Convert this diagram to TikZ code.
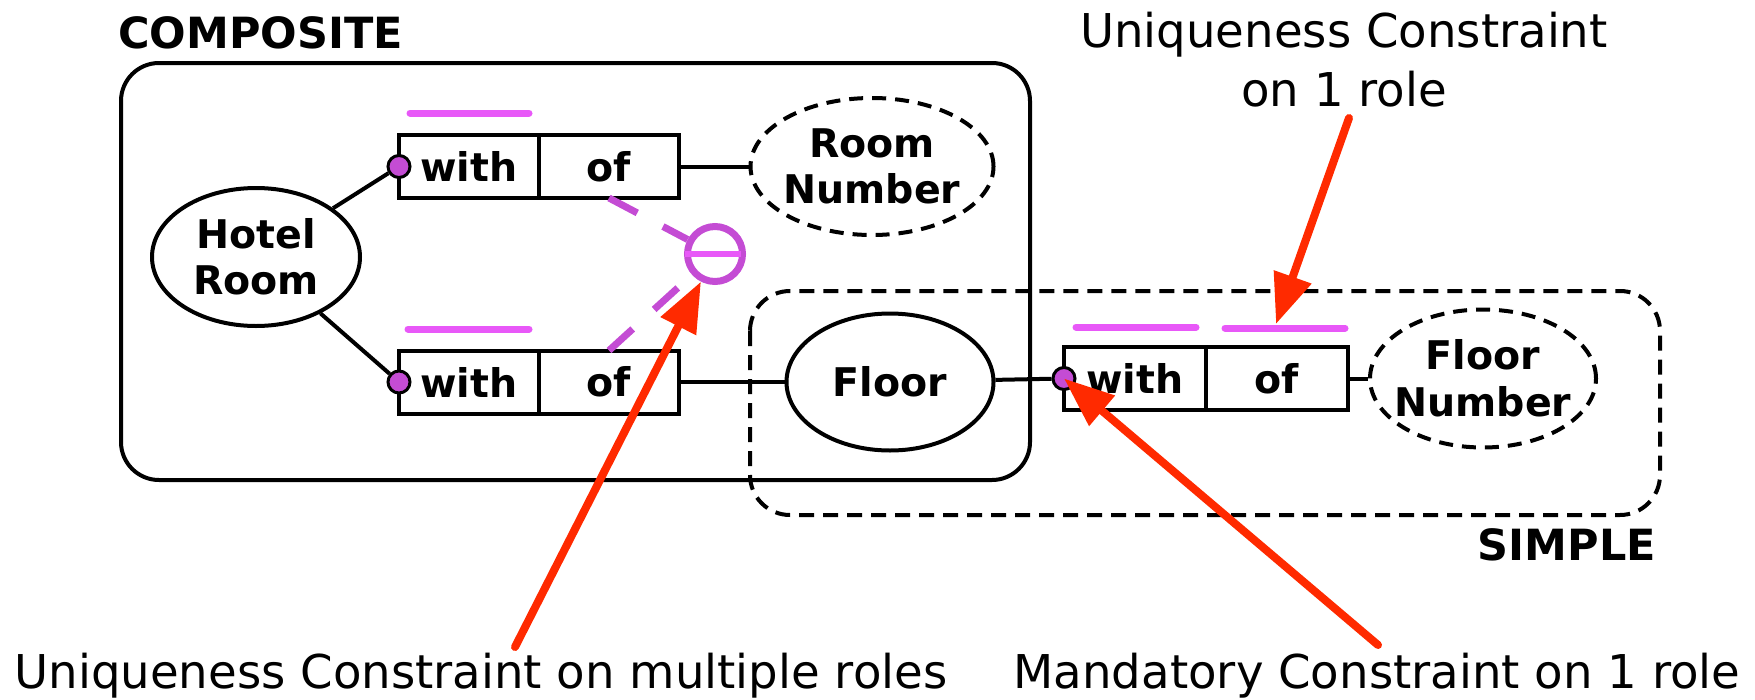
\documentclass[tikz,border=0pt]{standalone}
\usepackage{fontspec}
\setmainfont{DejaVu Sans}
\usetikzlibrary{shapes.geometric,arrows.meta}
\definecolor{ormpurple}{HTML}{C44CD4}
\definecolor{ormpink}{HTML}{E858F8}
\definecolor{ormred}{HTML}{FF2A00}
\begin{document}
\begin{tikzpicture}[x=1pt,y=-1pt,
  entity/.style={ellipse,draw,line width=4pt,inner sep=0pt,align=center,font=\fontsize{39.5}{46.5}\selectfont\bfseries},
  valuetype/.style={entity,inner xsep=-20pt,dash pattern=on 14pt off 9pt},
  role/.style={rectangle,draw,line width=4pt,minimum width=140pt,minimum height=63pt,inner sep=0pt,outer sep=0pt,font=\fontsize{39.5}{46.5}\selectfont\bfseries},
  mand/.style={circle,draw,line width=3pt,fill=ormpurple,minimum size=22pt,inner sep=0pt},
  ucbar/.style={ormpink,line width=7pt,line cap=round},
  ucdash/.style={ormpurple,line width=7pt,dash pattern=on 32pt off 29pt},
  conn/.style={line width=4pt},
  frame/.style={line width=4pt,rounded corners=38pt},
  grouplabel/.style={font=\fontsize{43}{50}\selectfont\bfseries,inner sep=0pt},
  note/.style={font=\fontsize{46.6}{59}\selectfont,inner sep=0pt,align=center},
  callout/.style={ormred,line width=8pt,line cap=round,-{Triangle[length=50pt,width=38pt]}},
]
\useasboundingbox (0,0) rectangle (1755,699);

% group frames
\draw[frame] (121,63) rectangle (1030,480);
\draw[frame,rounded corners=40pt,dash pattern=on 15pt off 9pt] (750,291) rectangle (1660,515);

% object types and roles
\node[entity,minimum width=208pt,minimum height=138pt] (hr) at (256,257) {Hotel\\Room};
\node[role] (t1) at (469,166.5) {with};
\node[role,anchor=west] (t2) at (t1.east) {of};
\node[role] (b1) at (469,382) {with};
\node[role,anchor=west] (b2) at (b1.east) {of};
\node[valuetype,minimum width=243pt,minimum height=137pt] (rn) at (872,166.5) {Room\\Number};
\node[entity,minimum width=207pt,minimum height=137pt] (fl) at (890,382) {Floor};
\node[role,minimum width=142pt] (r1) at (1135,378.5) {with};
\node[role,minimum width=142pt,anchor=west] (r2) at (r1.east) {of};
\node[valuetype,minimum width=226pt,minimum height=138pt] (fn) at (1483,378.5) {Floor\\Number};

% connectors
\draw[conn] (t2.east) -- (rn);
\draw[conn] (b2.east) -- (fl);
\draw[conn] (r2.east) -- (fn);

% mandatory dots
\node[mand] (tm) at (t1.west) {};
\node[mand] (bm) at (b1.west) {};
\node[mand] (rm) at (r1.west) {};
\draw[conn] (hr) -- (tm);
\draw[conn] (hr) -- (bm);
\draw[conn] (fl) -- (rm);

% uniqueness bars
\draw[ucbar] (410,113) -- (529,113);
\draw[ucbar] (408,329) -- (529,329);
\draw[ucbar] (1076,327) -- (1196,327);
\draw[ucbar] (1225,328) -- (1345,328);

% external uniqueness constraint
\node[circle,draw=ormpurple,line width=7pt,minimum size=55pt,inner sep=0pt] (uc) at (715,254) {};
\draw[ormpink,line width=6pt] (685,254) -- (741,254);
\draw[ucdash] (t2.south) -- (uc);
\draw[ucdash] (b2.north) -- (uc);

% labels
\node[grouplabel,anchor=base west] (comp) at (118,48) {COMPOSITE};
\node[grouplabel,anchor=base east] (simp) at (1656,560) {SIMPLE};
\node[note] (n1) at (1344,60) {Uniqueness Constraint\\on 1 role};
\node[note,anchor=base] (n2) at (481,688) {Uniqueness Constraint on multiple roles};
\node[note,anchor=base] (n3) at (1377,688) {Mandatory Constraint on 1 role};

% callout arrows
\coordinate (a1s) at (1349,118);
\coordinate (a1e) at (1276,324);
\coordinate (a2s) at (515,647);
\coordinate (a3s) at (1378,645);
\draw[callout] (a1s) -- (a1e);
\draw[callout] (a2s) -- (uc);
\draw[callout] (a3s) -- (rm.center);
\end{tikzpicture}
\end{document}
